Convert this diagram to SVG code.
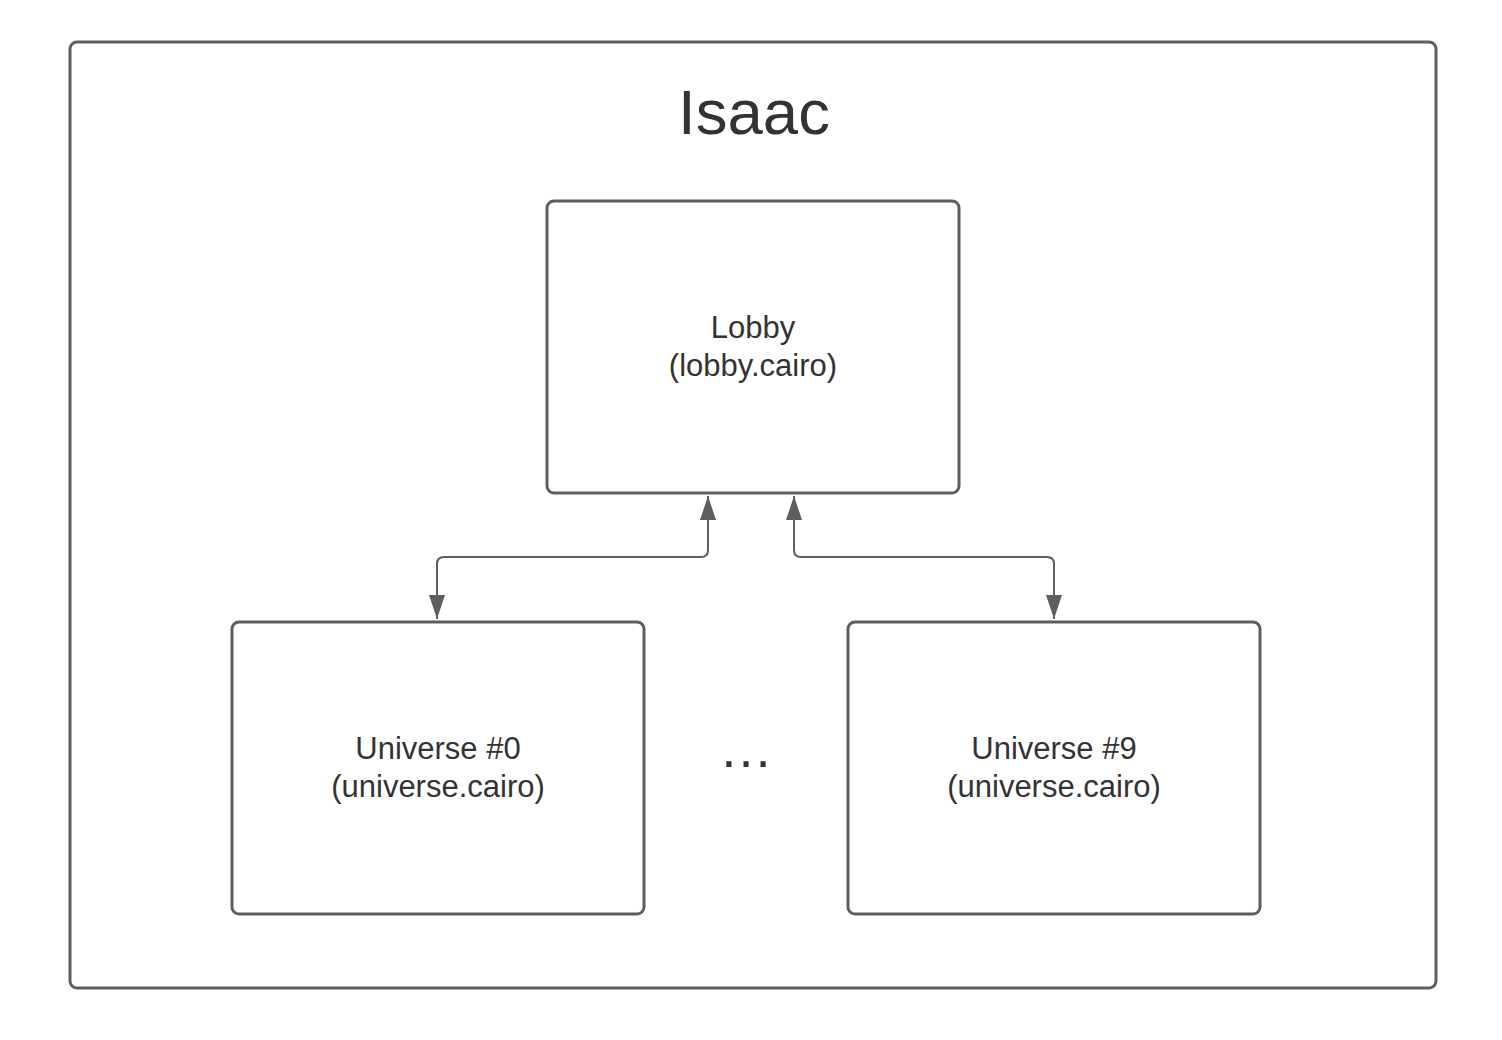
<svg xmlns="http://www.w3.org/2000/svg" width="1502" height="1040" viewBox="0 0 1502 1040">
<style>
.box{fill:#fff;stroke:#5e5e5e;stroke-width:3}
.lbl{font-family:"Liberation Sans",Arial,sans-serif;font-size:31px;fill:#333;text-anchor:middle}
.conn{fill:none;stroke:#5e5e5e;stroke-width:2}
</style>
<defs>
<marker id="arr" viewBox="0 0 24 16" refX="24" refY="8" markerWidth="24" markerHeight="16" markerUnits="userSpaceOnUse" orient="auto-start-reverse">
<path d="M0,0 L24,8 L0,16 z" fill="#5e5e5e"/>
</marker>
</defs>
<rect width="1502" height="1040" fill="#fff"/>
<g id="isaac">
<rect class="box" x="70" y="42" width="1366" height="946" rx="7"/>
<text x="754" y="134" font-family="Liberation Sans,Arial,sans-serif" font-size="63.5" fill="#333" text-anchor="middle">Isaac</text>
</g>
<g id="lobby">
<rect class="box" x="547" y="201" width="412" height="292" rx="7"/>
<text class="lbl" x="753" y="338">Lobby</text>
<text class="lbl" x="753" y="376">(lobby.cairo)</text>
</g>
<g id="universe0">
<rect class="box" x="232" y="622" width="412" height="292" rx="7"/>
<text class="lbl" x="438" y="759">Universe #0</text>
<text class="lbl" x="438" y="797">(universe.cairo)</text>
</g>
<g id="universe9">
<rect class="box" x="848" y="622" width="412" height="292" rx="7"/>
<text class="lbl" x="1054" y="759">Universe #9</text>
<text class="lbl" x="1054" y="797">(universe.cairo)</text>
</g>
<g id="ellipsis">
<text x="746" y="767" font-family="Liberation Sans,Arial,sans-serif" font-size="54" fill="#333" text-anchor="middle">…</text>
</g>
<g id="connectors">
<path class="conn" d="M708,496 V550 Q708,557 701,557 H444 Q437,557 437,564 V619" marker-start="url(#arr)" marker-end="url(#arr)"/>
<path class="conn" d="M794,496 V550 Q794,557 801,557 H1047 Q1054,557 1054,564 V619" marker-start="url(#arr)" marker-end="url(#arr)"/>
</g>
</svg>
